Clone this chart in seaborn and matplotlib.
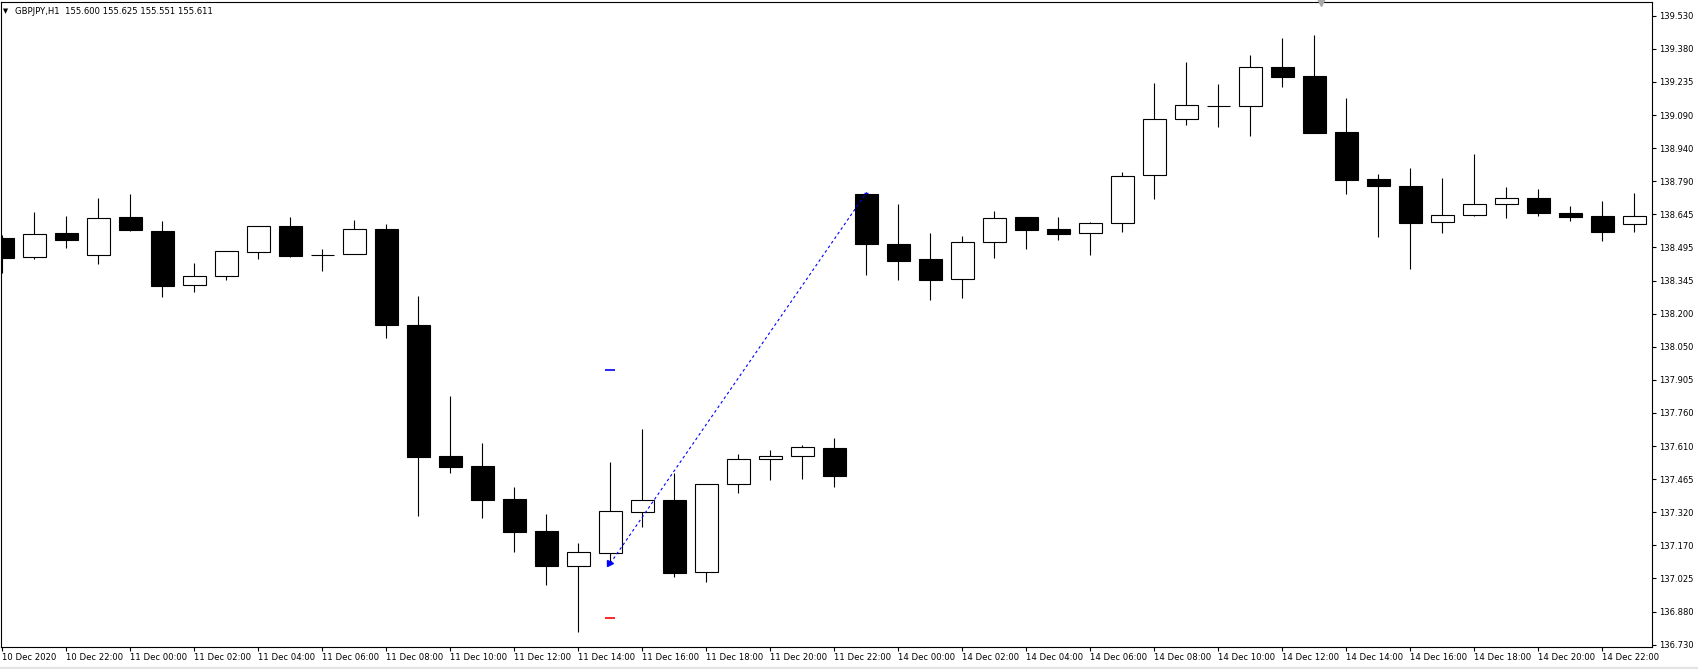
import numpy as np
import pandas as pd
import matplotlib
matplotlib.use("Agg")
import matplotlib.pyplot as plt
from matplotlib.patches import Rectangle
import seaborn as sns

# ---------------- data ----------------
time_labels = ["10 Dec 2020", "10 Dec 22:00",
               "11 Dec 00:00", "11 Dec 02:00", "11 Dec 04:00", "11 Dec 06:00",
               "11 Dec 08:00", "11 Dec 10:00", "11 Dec 12:00", "11 Dec 14:00",
               "11 Dec 16:00", "11 Dec 18:00", "11 Dec 20:00", "11 Dec 22:00",
               "14 Dec 00:00", "14 Dec 02:00", "14 Dec 04:00", "14 Dec 06:00",
               "14 Dec 08:00", "14 Dec 10:00", "14 Dec 12:00", "14 Dec 14:00",
               "14 Dec 16:00", "14 Dec 18:00", "14 Dec 20:00", "14 Dec 22:00"]

opens = [138.539, 138.457, 138.563, 138.464, 138.634, 138.572, 138.330, 138.370, 138.477, 138.593,
         138.466, 138.468, 138.581, 138.153, 137.570, 137.526, 137.379, 137.236, 137.082, 137.137,
         137.319, 137.374, 137.052, 137.444, 137.555, 137.569, 137.606, 138.737, 138.514, 138.447,
         138.357, 138.522, 138.634, 138.581, 138.562, 138.606, 138.820, 139.069, 139.129, 139.127,
         139.302, 139.262, 139.013, 138.803, 138.772, 138.611, 138.642, 138.691, 138.717, 138.652,
         138.639, 138.602]
highs = [138.554, 138.656, 138.639, 138.719, 138.737, 138.616, 138.429, 138.483, 138.593, 138.634,
         138.492, 138.621, 138.603, 138.282, 137.837, 137.628, 137.432, 137.312, 137.183, 137.543,
         137.690, 137.494, 137.445, 137.579, 137.597, 137.619, 137.650, 138.745, 138.692, 138.563,
         138.550, 138.661, 138.634, 138.634, 138.612, 138.835, 139.231, 139.324, 139.226, 139.355,
         139.431, 139.445, 139.164, 138.826, 138.852, 138.808, 138.915, 138.768, 138.759, 138.683,
         138.705, 138.741]
lows = [138.386, 138.449, 138.497, 138.426, 138.573, 138.279, 138.302, 138.355, 138.449, 138.457,
        138.395, 138.468, 138.097, 137.304, 137.496, 137.295, 137.144, 136.997, 136.788, 137.098,
        137.255, 137.033, 137.010, 137.404, 137.465, 137.469, 137.433, 138.377, 138.355, 138.266,
        138.275, 138.453, 138.493, 138.533, 138.466, 138.569, 138.716, 139.045, 139.036, 138.996,
        139.214, 139.010, 138.738, 138.546, 138.404, 138.564, 138.637, 138.631, 138.640, 138.618,
        138.529, 138.569]
closes = [138.453, 138.557, 138.533, 138.628, 138.578, 138.328, 138.370, 138.483, 138.593, 138.462,
          138.464, 138.579, 138.155, 137.567, 137.522, 137.375, 137.233, 137.082, 137.141, 137.325,
          137.373, 137.050, 137.445, 137.555, 137.570, 137.609, 137.482, 138.515, 138.440, 138.355,
          138.522, 138.628, 138.578, 138.560, 138.607, 138.817, 139.071, 139.132, 139.127, 139.301,
          139.259, 139.010, 138.800, 138.774, 138.609, 138.642, 138.692, 138.717, 138.651, 138.636,
          138.566, 138.637]

price_labels = ["139.530", "139.380", "139.235", "139.090", "138.940", "138.790", "138.645",
                "138.495", "138.345", "138.200", "138.050", "137.905", "137.760", "137.610",
                "137.465", "137.320", "137.170", "137.025", "136.880", "136.730"]

# trade: open arrow -> close, with SL / TP levels
trade_bars = [19, 27]
trade_prices = [137.092, 138.742]
tp_price = 137.952
sl_price = 136.847

header = "GBPJPY,H1  155.600 155.625 155.551 155.611"

# ---------------- figure ----------------
sns.set_theme(style="white")
plt.rcParams['font.family'] = ['DejaVu Sans']

W, H = 1699, 669
fig = plt.figure(figsize=(W / 100, H / 100), dpi=100)
fig.patch.set_facecolor("white")
ax = fig.add_axes([1 / W, 22 / H, 1651.3 / W, 645 / H])
ax.set_facecolor("white")

df = pd.DataFrame(dict(open=opens, high=highs, low=lows, close=closes))
df["idx"] = np.arange(len(df))
bull = df["close"] >= df["open"]

ax.vlines(df["idx"], df["low"], df["high"], color="black", lw=0.8, zorder=2)
ax.bar(df["idx"], (df["close"] - df["open"]).abs(),
       bottom=np.minimum(df["open"], df["close"]), width=0.72,
       color=np.where(bull, "white", "black"), edgecolor="black",
       linewidth=0.8, zorder=3)

# trade line and markers
tdf = pd.DataFrame(dict(x=trade_bars, y=trade_prices))
sns.lineplot(data=tdf, x="x", y="y", ax=ax, color="#0000ff", lw=0.8,
             linestyle=(0, (2.5, 2.5)), sort=False, zorder=4)
ax.plot(trade_bars[0], trade_prices[0], marker=">", color="#0000ff", ms=4, zorder=5)
ax.plot(trade_bars[0], tp_price, marker="_", color="#0000ff", ms=7, mew=1.2, zorder=5)
ax.plot(trade_bars[0], sl_price, marker="_", color="#ff0000", ms=7, mew=1.2, zorder=5)
ax.plot(trade_bars[1], trade_prices[1], marker="_", color="#0000ff", ms=3, mew=1.0, zorder=5)

# axes limits / ticks
ax.set_xlim(-0.04, 51.56)
ax.set_ylim(136.7196, 139.5914)

ax.yaxis.tick_right()
ax.set_yticks(np.linspace(139.530, 136.730, len(price_labels)))
ax.set_yticklabels(price_labels)
ax.set_xticks(np.arange(0, 2 * len(time_labels), 2))
ax.set_xticklabels(time_labels)
for lbl in ax.get_xticklabels():
    lbl.set_ha("left")
ax.tick_params(axis="y", direction="out", length=3, width=0.8, pad=2,
               labelsize=6.0, colors="black", right=True, left=False)
ax.tick_params(axis="x", direction="out", length=3, width=0.8, pad=1.5,
               labelsize=6.1, colors="black", bottom=True)
ax.set_xlabel("")
ax.set_ylabel("")
ax.grid(False)
for s in ax.spines.values():
    s.set_color("black")
    s.set_linewidth(0.8)
    s.set_visible(True)

# decorations
ax.plot([0.7994], [1.0], marker="v", color="#a9a9a9", ms=6,
        transform=ax.transAxes, clip_on=False, zorder=6)
fig.patches.append(Rectangle((0, 0), 1, 2.5 / H, transform=fig.transFigure,
                             color="#e4e4e4", zorder=0))
fig.text(6 / W, 1 - 11 / H, "▼", fontsize=4.8, ha="center", va="center", color="black")
fig.text(15 / W, 1 - 11 / H, header, fontsize=6.1, ha="left", va="center", color="black")

fig.savefig("out.png", dpi=100)
